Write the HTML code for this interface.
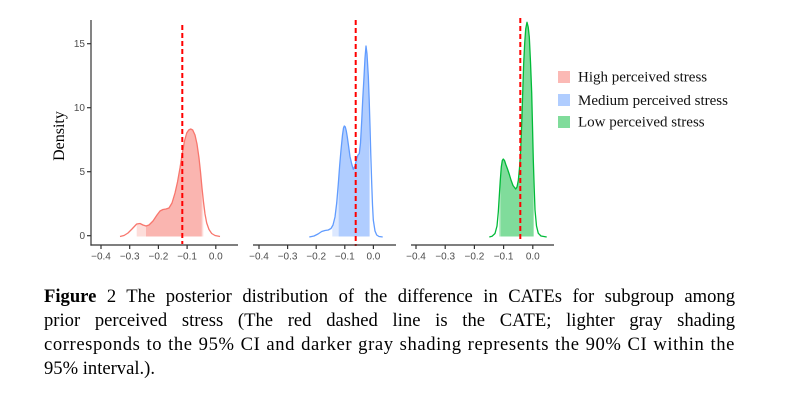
<!DOCTYPE html>
<html>
<head>
<meta charset="utf-8">
<style>
  html, body { margin:0; padding:0; background:#ffffff; }
  body { width:799px; height:406px; position:relative; overflow:hidden; }
  svg { position:absolute; left:0; top:0; }
  .cap { position:absolute; left:44px; width:691px; font-family:"Liberation Serif", serif; font-size:18.6px; line-height:24px; color:#000; text-align:justify; text-align-last:justify; white-space:normal; }
  .cap.last { text-align-last:left; }
</style>
</head>
<body>
<svg width="799" height="406" viewBox="0 0 799 406" xmlns="http://www.w3.org/2000/svg">
  <defs>
    <clipPath id="p1l"><rect x="136.7" y="0" width="66.6" height="236.5"/></clipPath>
    <clipPath id="p1d"><rect x="146" y="0" width="55.7" height="236.5"/></clipPath>
    <clipPath id="p2l"><rect x="332.3" y="0" width="37.7" height="236.5"/></clipPath>
    <clipPath id="p2d"><rect x="338.7" y="0" width="30.6" height="236.5"/></clipPath>
    <clipPath id="p3l"><rect x="499" y="0" width="35" height="236.5"/></clipPath>
    <clipPath id="p3d"><rect x="500.5" y="0" width="32.8" height="236.5"/></clipPath>
  </defs>

  <!-- Panel 1 (High) -->
  <g>
    <path clip-path="url(#p1l)" fill="#FDDDDA" d="M120,236.5 L124,235.5 L128,233 L132,229 L136.7,224 L140,223.5 L143,225 L146,226 L149,225 L153,221 L157,215 L160,211 L163,209.5 L166,209 L169,208 L172,203 L175,193 L177.5,182 L180,168 L182,155 L184.5,141 L186.7,133 L188.7,130 L190.7,129 L192.7,130 L195,135 L197,144 L199,158 L200.5,172 L202,188 L203.5,202 L205,214 L206.7,223 L209,229.5 L211.7,233.5 L215,235.5 L220,236.5 Z"/>
    <path clip-path="url(#p1d)" fill="#FAB5B0" d="M120,236.5 L124,235.5 L128,233 L132,229 L136.7,224 L140,223.5 L143,225 L146,226 L149,225 L153,221 L157,215 L160,211 L163,209.5 L166,209 L169,208 L172,203 L175,193 L177.5,182 L180,168 L182,155 L184.5,141 L186.7,133 L188.7,130 L190.7,129 L192.7,130 L195,135 L197,144 L199,158 L200.5,172 L202,188 L203.5,202 L205,214 L206.7,223 L209,229.5 L211.7,233.5 L215,235.5 L220,236.5 Z"/>
    <path fill="none" stroke="#F8766D" stroke-width="1.3" stroke-linejoin="round" d="M120,236.5 L124,235.5 L128,233 L132,229 L136.7,224 L140,223.5 L143,225 L146,226 L149,225 L153,221 L157,215 L160,211 L163,209.5 L166,209 L169,208 L172,203 L175,193 L177.5,182 L180,168 L182,155 L184.5,141 L186.7,133 L188.7,130 L190.7,129 L192.7,130 L195,135 L197,144 L199,158 L200.5,172 L202,188 L203.5,202 L205,214 L206.7,223 L209,229.5 L211.7,233.5 L215,235.5 L220,236.5"/>
    <line x1="182.3" y1="25" x2="182.3" y2="244" stroke="#FF0000" stroke-width="2" stroke-dasharray="5,3"/>
  </g>

  <!-- Panel 2 (Medium) -->
  <g>
    <path clip-path="url(#p2l)" fill="#DCE8FF" d="M309.3,237 L314,236 L318,234 L321.7,231.5 L325,230.5 L328.3,230 L331,228.5 L333,225 L335,217 L336.7,203 L338.3,184 L339.7,165 L341,150 L342.5,135 L343.5,128 L344.3,126 L345.3,127 L346.3,131 L347.3,137 L348.7,147 L350,156.5 L351.7,164 L353.3,169.3 L355,166 L356.7,158.5 L358,155 L359.3,153.5 L360.5,143 L361.7,121 L362.8,98 L364,77 L365,58 L366,46 L367,54 L368.3,76 L369.2,100 L370,126 L370.8,155 L371.7,183 L372.5,205 L373.3,220 L375,231 L376.7,235 L379,236.5 L382.7,237 Z"/>
    <path clip-path="url(#p2d)" fill="#B0CDFF" d="M309.3,237 L314,236 L318,234 L321.7,231.5 L325,230.5 L328.3,230 L331,228.5 L333,225 L335,217 L336.7,203 L338.3,184 L339.7,165 L341,150 L342.5,135 L343.5,128 L344.3,126 L345.3,127 L346.3,131 L347.3,137 L348.7,147 L350,156.5 L351.7,164 L353.3,169.3 L355,166 L356.7,158.5 L358,155 L359.3,153.5 L360.5,143 L361.7,121 L362.8,98 L364,77 L365,58 L366,46 L367,54 L368.3,76 L369.2,100 L370,126 L370.8,155 L371.7,183 L372.5,205 L373.3,220 L375,231 L376.7,235 L379,236.5 L382.7,237 Z"/>
    <path fill="none" stroke="#619CFF" stroke-width="1.3" stroke-linejoin="round" d="M309.3,237 L314,236 L318,234 L321.7,231.5 L325,230.5 L328.3,230 L331,228.5 L333,225 L335,217 L336.7,203 L338.3,184 L339.7,165 L341,150 L342.5,135 L343.5,128 L344.3,126 L345.3,127 L346.3,131 L347.3,137 L348.7,147 L350,156.5 L351.7,164 L353.3,169.3 L355,166 L356.7,158.5 L358,155 L359.3,153.5 L360.5,143 L361.7,121 L362.8,98 L364,77 L365,58 L366,46 L367,54 L368.3,76 L369.2,100 L370,126 L370.8,155 L371.7,183 L372.5,205 L373.3,220 L375,231 L376.7,235 L379,236.5 L382.7,237"/>
    <line x1="355.7" y1="20" x2="355.7" y2="246" stroke="#FF0000" stroke-width="2" stroke-dasharray="5,3"/>
  </g>

  <!-- Panel 3 (Low) -->
  <g>
    <path clip-path="url(#p3l)" fill="#BFEDCB" d="M489.3,237 L492,236.3 L495,233.5 L497,226 L498.3,212 L499.3,196 L500.3,180 L501.3,167 L502.3,160.5 L503.3,159 L504.5,160.5 L505.8,164.5 L507.5,169 L509.5,175 L511,180 L513,185.5 L515.7,189 L517,187 L518.3,180.5 L519.5,168 L520.7,150 L521.7,124 L522.7,93 L523.7,63 L524.7,43 L525.7,29 L527,22.3 L528.2,27 L529.3,37 L530.5,62 L531.7,93 L532.5,126 L533.3,160 L534.2,188 L535,210 L536.5,226 L538.3,233.3 L541,236 L546.7,237 Z"/>
    <path clip-path="url(#p3d)" fill="#80DC9B" d="M489.3,237 L492,236.3 L495,233.5 L497,226 L498.3,212 L499.3,196 L500.3,180 L501.3,167 L502.3,160.5 L503.3,159 L504.5,160.5 L505.8,164.5 L507.5,169 L509.5,175 L511,180 L513,185.5 L515.7,189 L517,187 L518.3,180.5 L519.5,168 L520.7,150 L521.7,124 L522.7,93 L523.7,63 L524.7,43 L525.7,29 L527,22.3 L528.2,27 L529.3,37 L530.5,62 L531.7,93 L532.5,126 L533.3,160 L534.2,188 L535,210 L536.5,226 L538.3,233.3 L541,236 L546.7,237 Z"/>
    <path fill="none" stroke="#00BA38" stroke-width="1.3" stroke-linejoin="round" d="M489.3,237 L492,236.3 L495,233.5 L497,226 L498.3,212 L499.3,196 L500.3,180 L501.3,167 L502.3,160.5 L503.3,159 L504.5,160.5 L505.8,164.5 L507.5,169 L509.5,175 L511,180 L513,185.5 L515.7,189 L517,187 L518.3,180.5 L519.5,168 L520.7,150 L521.7,124 L522.7,93 L523.7,63 L524.7,43 L525.7,29 L527,22.3 L528.2,27 L529.3,37 L530.5,62 L531.7,93 L532.5,126 L533.3,160 L534.2,188 L535,210 L536.5,226 L538.3,233.3 L541,236 L546.7,237"/>
    <line x1="520.3" y1="18" x2="520.3" y2="241" stroke="#FF0000" stroke-width="2" stroke-dasharray="5,3"/>
  </g>

  <!-- Y axis -->
  <g stroke="#333333" stroke-width="1.2" fill="none">
    <line x1="91" y1="20" x2="91" y2="245.6"/>
    <line x1="87" y1="43.7" x2="91" y2="43.7"/>
    <line x1="87" y1="107.7" x2="91" y2="107.7"/>
    <line x1="87" y1="171.7" x2="91" y2="171.7"/>
    <line x1="87" y1="235.7" x2="91" y2="235.7"/>
  </g>
  <g font-family="Liberation Sans, sans-serif" font-size="10" fill="#4D4D4D" text-anchor="end">
    <text x="85" y="47.2">15</text>
    <text x="85" y="111.2">10</text>
    <text x="85" y="175.2">5</text>
    <text x="85" y="239.2">0</text>
  </g>
  <text transform="translate(64,136) rotate(-90)" text-anchor="middle" font-family="Liberation Serif, serif" font-size="16" fill="#000">Density</text>

  <!-- X axes -->
  <g stroke="#333333" stroke-width="1.2" fill="none">
    <line x1="90.4" y1="245" x2="238" y2="245"/>
    <line x1="253" y1="245" x2="396" y2="245"/>
    <line x1="411" y1="245" x2="554" y2="245"/>
    <line x1="101" y1="245" x2="101" y2="249"/>
    <line x1="129.7" y1="245" x2="129.7" y2="249"/>
    <line x1="158.4" y1="245" x2="158.4" y2="249"/>
    <line x1="187.1" y1="245" x2="187.1" y2="249"/>
    <line x1="215.8" y1="245" x2="215.8" y2="249"/>
    <line x1="259" y1="245" x2="259" y2="249"/>
    <line x1="287.6" y1="245" x2="287.6" y2="249"/>
    <line x1="316.2" y1="245" x2="316.2" y2="249"/>
    <line x1="344.8" y1="245" x2="344.8" y2="249"/>
    <line x1="373.4" y1="245" x2="373.4" y2="249"/>
    <line x1="416" y1="245" x2="416" y2="249"/>
    <line x1="445.2" y1="245" x2="445.2" y2="249"/>
    <line x1="474.4" y1="245" x2="474.4" y2="249"/>
    <line x1="503.6" y1="245" x2="503.6" y2="249"/>
    <line x1="532.8" y1="245" x2="532.8" y2="249"/>
  </g>
  <g font-family="Liberation Sans, sans-serif" font-size="10" fill="#4D4D4D" text-anchor="middle">
    <text x="101" y="259.5">−0.4</text>
    <text x="129.7" y="259.5">−0.3</text>
    <text x="158.4" y="259.5">−0.2</text>
    <text x="187.1" y="259.5">−0.1</text>
    <text x="215.8" y="259.5">0.0</text>
    <text x="259" y="259.5">−0.4</text>
    <text x="287.6" y="259.5">−0.3</text>
    <text x="316.2" y="259.5">−0.2</text>
    <text x="344.8" y="259.5">−0.1</text>
    <text x="373.4" y="259.5">0.0</text>
    <text x="416" y="259.5">−0.4</text>
    <text x="445.2" y="259.5">−0.3</text>
    <text x="474.4" y="259.5">−0.2</text>
    <text x="503.6" y="259.5">−0.1</text>
    <text x="532.8" y="259.5">0.0</text>
  </g>

  <!-- Legend -->
  <rect x="558" y="71" width="12" height="12" fill="#FBB9B5"/>
  <rect x="558" y="94" width="12" height="12" fill="#B0CDFF"/>
  <rect x="558" y="116" width="12" height="12" fill="#80DC9B"/>
  <g font-family="Liberation Serif, serif" font-size="15" fill="#111">
    <text x="578" y="81.5">High perceived stress</text>
    <text x="578" y="105">Medium perceived stress</text>
    <text x="578" y="126.5">Low perceived stress</text>
  </g>
</svg>

<div class="cap" style="top:285px;"><b>Figure</b> 2 The posterior distribution of the difference in CATEs for subgroup among</div>
<div class="cap" style="top:309px;">prior perceived stress (The red dashed line is the CATE; lighter gray shading</div>
<div class="cap" style="top:333px;letter-spacing:0.6px;">corresponds to the 95% CI and darker gray shading represents the 90% CI within the</div>
<div class="cap last" style="top:357px;">95% interval.).</div>
</body>
</html>
